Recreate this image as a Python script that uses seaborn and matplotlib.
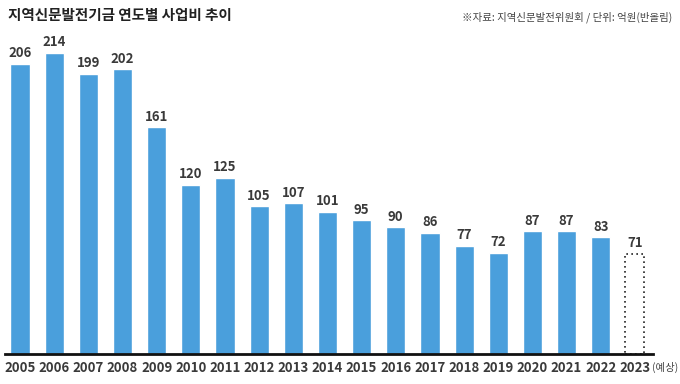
import matplotlib
matplotlib.use("Agg")
import matplotlib.pyplot as plt
import seaborn as sns
import pandas as pd

years = ["2005", "2006", "2007", "2008", "2009", "2010", "2011", "2012", "2013", "2014",
         "2015", "2016", "2017", "2018", "2019", "2020", "2021", "2022", "2023"]
budget = [206, 214, 199, 202, 161, 120, 125, 105, 107, 101, 95, 90, 86, 77, 72, 87, 87, 83, 71]
title = "지역신문발전기금 연도별 사업비 추이"
source = "※자료: 지역신문발전위원회 / 단위: 억원(반올림)"

sns.set_style("white")
plt.rcParams['font.family'] = ['Noto Sans CJK KR', 'DejaVu Sans']

df = pd.DataFrame({"year": years, "budget": budget})

fig = plt.figure(figsize=(6.8, 3.84), dpi=100)
ax = fig.add_axes([5 / 680, 30 / 384, 648 / 680, 324 / 384])

sns.barplot(data=df, x="year", y="budget", color="#4a9fdc", saturation=1,
            width=0.56, ax=ax)

# last bar is a forecast: dotted outline, no fill
last = ax.patches[-1]
last.set_facecolor("white")
last.set_edgecolor("#222222")
last.set_linestyle((0, (1, 2)))
last.set_linewidth(1.2)

for i, v in enumerate(budget):
    ax.text(i, v + 2.5, str(v), ha="center", va="bottom", fontsize=9.5,
            fontweight="bold", color="#3a3a3a")

ax.set_xlim(-0.44, 18.53)
ax.set_ylim(0, 230)
ax.set_xlabel("")
ax.set_ylabel("")
ax.set_yticks([])
ax.tick_params(axis="x", length=0, pad=5)
for lab in ax.get_xticklabels():
    lab.set_fontsize(9.5)
    lab.set_fontweight("bold")
    lab.set_color("#3a3a3a")
sns.despine(ax=ax, left=True, top=True, right=True)
ax.spines["bottom"].set_linewidth(2)
ax.spines["bottom"].set_color("#111111")

fig.text(8 / 680, 1 - 15 / 384, title, fontsize=10.5, fontweight="bold",
         color="#222222", va="center", ha="left")
fig.text(672 / 680, 1 - 17 / 384, source, fontsize=7.5, color="#444444",
         va="center", ha="right")
fig.text(652 / 680, 1 - 367 / 384, "(예상)", fontsize=7.5, color="#444444",
         va="center", ha="left")

fig.savefig("out.png", dpi=100)
